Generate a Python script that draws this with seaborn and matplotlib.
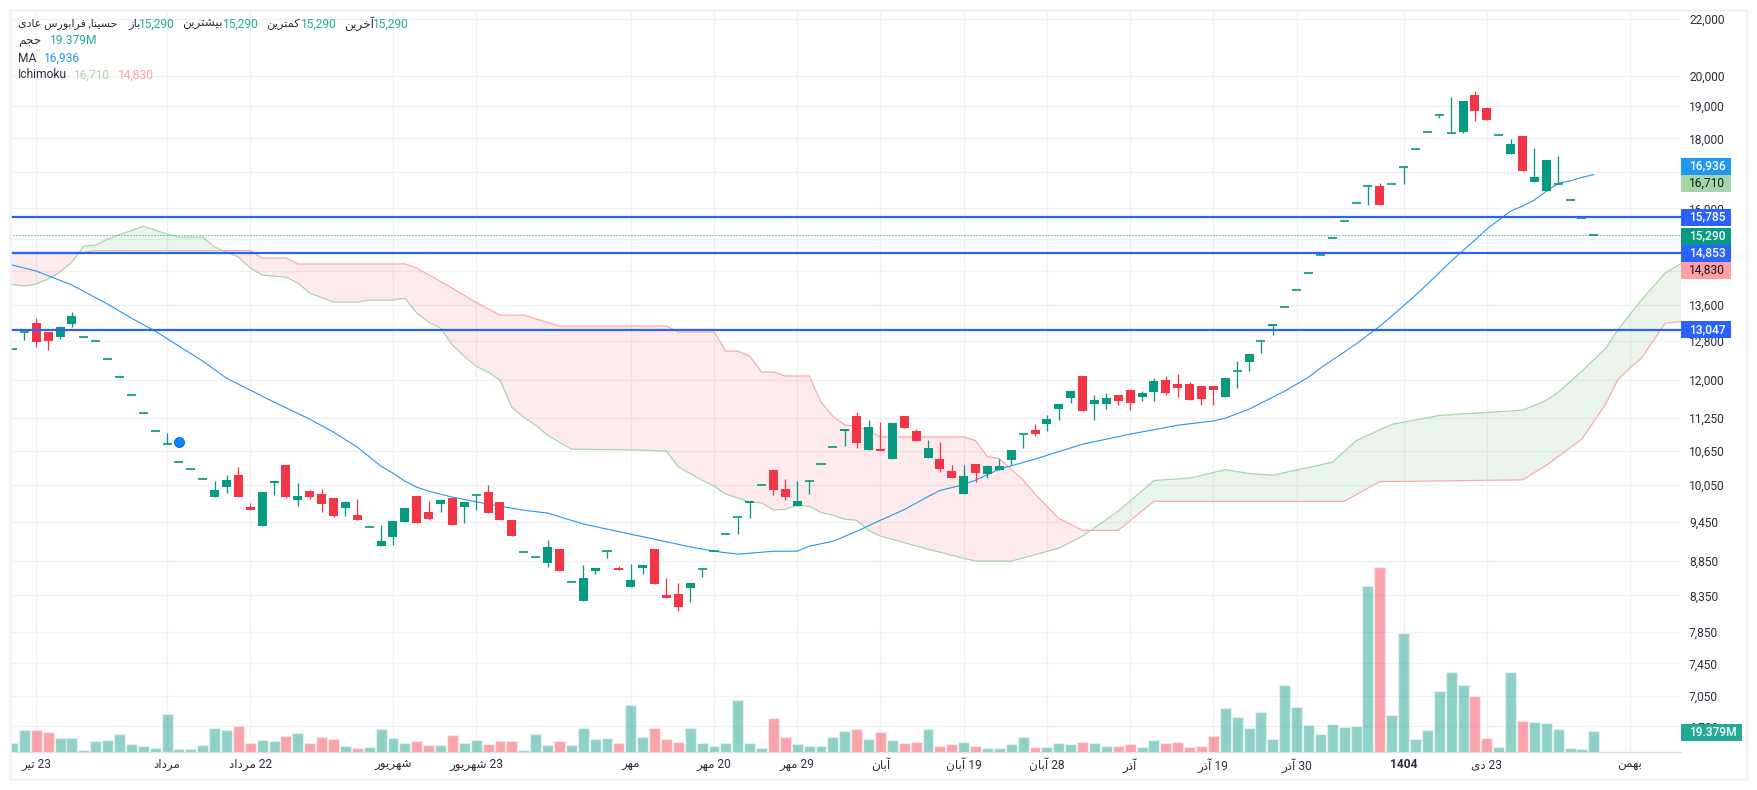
# Ichimoku / candlestick chart of a Tehran stock, with volume below
import numpy as np
import pandas as pd
import seaborn as sns
import matplotlib.pyplot as plt
from matplotlib.patches import Rectangle
from matplotlib.transforms import ScaledTranslation

# Candles, one value per trading day
open_price = [12632, 13000, 13196, 13000, 12890, 13174, 12890, 12803, 12421, 12050,
              11692, 11343, 11005, 10768, 10446, 10324, 10152, 9849, 10016, 10221,
              9685, 9380, 10084, 10394, 9799, 9949, 9899, 9832, 9668, 9555,
              9365, 9070, 9208, 9443, 9866, 9604, 9734, 9832, 9685, 9882,
              9932, 9767, 9475, 8979, 8904, 8815, 9024, 8537, 8269, 8697,
              8994, 8741, 8466, 8741, 9024, 8353, 8367, 8452, 8726, 8994,
              9255, 9523, 9750, 10050, 10307, 9982, 9701, 10118, 10411, 10713,
              11005, 11286, 10659, 10677, 10499, 11286, 11005, 10516, 10499, 10290,
              9899, 10411, 10238, 10307, 10481, 10950, 11023, 11135, 11419, 11633,
              12071, 11517, 11517, 11692, 11790, 11653, 11751, 11990, 11910, 11910,
              11870, 11870, 11653, 12173, 12358, 12803, 13130, 13557, 13950, 14355,
              14795, 15224, 15666, 16146, 16617, 16617, 16673, 17153, 17681, 18193,
              18721, 18163, 18193, 19361, 18944, 18102, 17533, 18072, 16729, 16476,
              16673, 16228, 15744, 15290]
high_price = [12632, 13000, 13307, 13000, 13130, 13443, 12890, 12803, 12421, 12050,
              11692, 11343, 11005, 10968, 10446, 10324, 10152, 10118, 10221, 10359,
              9750, 9932, 10118, 10394, 10084, 9966, 9982, 9832, 9783, 9816,
              9365, 9396, 9459, 9668, 9866, 9783, 9816, 9832, 9767, 9882,
              10050, 9767, 9475, 8979, 8904, 9162, 9024, 8537, 8785, 8741,
              8994, 8771, 8800, 8785, 9024, 8595, 8523, 8523, 8726, 8994,
              9255, 9523, 9783, 10050, 10307, 10152, 10118, 10118, 10411, 10713,
              11042, 11362, 11210, 11173, 11154, 11286, 11042, 10840, 10804, 10394,
              10394, 10411, 10394, 10499, 10659, 10950, 11135, 11305, 11517, 11770,
              12071, 11692, 11731, 11692, 11790, 11770, 12030, 12071, 12112, 11950,
              11870, 11870, 12030, 12379, 12526, 12803, 13174, 13557, 13950, 14355,
              14795, 15224, 15666, 16146, 16617, 16701, 16673, 17153, 17681, 18193,
              18721, 19296, 19168, 19492, 18975, 18102, 17981, 18072, 17712, 17358,
              17474, 16228, 15744, 15290]
low_price = [12632, 12825, 12675, 12611, 12846, 13108, 12890, 12803, 12421, 12050,
             11692, 11343, 11005, 10768, 10446, 10324, 10152, 9849, 9916, 9849,
             9636, 9380, 9882, 9832, 9701, 9816, 9604, 9523, 9539, 9475,
             9365, 9070, 9085, 9443, 9427, 9475, 9604, 9396, 9427, 9636,
             9588, 9475, 9224, 8979, 8904, 8756, 8697, 8537, 8269, 8653,
             8889, 8712, 8466, 8653, 8508, 8311, 8131, 8255, 8609, 8994,
             9255, 9255, 9507, 10050, 9882, 9799, 9701, 9899, 10411, 10713,
             10731, 10695, 10659, 10641, 10499, 11060, 10822, 10516, 10273, 10169,
             9899, 10101, 10169, 10307, 10394, 10695, 10913, 11005, 11210, 11536,
             11381, 11210, 11419, 11498, 11400, 11574, 11574, 11692, 11653, 11594,
             11498, 11498, 11653, 11830, 12173, 12548, 12933, 13557, 13950, 14355,
             14795, 15224, 15666, 16146, 16092, 16092, 16673, 16673, 17681, 18193,
             18627, 18163, 18163, 18534, 18565, 18102, 17533, 17039, 16729, 16476,
             16673, 16228, 15744, 15290]
close_price = [12632, 13000, 12782, 12803, 13108, 13352, 12890, 12803, 12421, 12050,
               11692, 11343, 11005, 10768, 10446, 10324, 10152, 9966, 10135, 9849,
               9636, 9932, 10118, 9849, 9866, 9849, 9734, 9539, 9767, 9475,
               9365, 9147, 9459, 9668, 9427, 9491, 9799, 9396, 9767, 9882,
               9588, 9475, 9224, 8979, 8904, 9055, 8697, 8537, 8595, 8741,
               8994, 8712, 8566, 8785, 8508, 8311, 8186, 8523, 8726, 8994,
               9255, 9523, 9783, 10050, 9966, 9849, 9783, 10118, 10411, 10713,
               11042, 10786, 11079, 10641, 11154, 11060, 10822, 10695, 10324, 10169,
               10204, 10255, 10376, 10376, 10659, 10950, 10950, 11229, 11517, 11770,
               11381, 11594, 11633, 11574, 11536, 11731, 11970, 11731, 11830, 11594,
               11613, 11790, 12030, 12173, 12526, 12803, 13174, 13557, 13950, 14355,
               14795, 15224, 15666, 16146, 16617, 16092, 16673, 17153, 17681, 18193,
               18721, 18163, 19168, 18849, 18565, 18102, 17831, 17039, 16870, 17358,
               16673, 16228, 15744, 15290]

# Volume in millions of shares
volume = [8.3, 20.3, 20.3, 18.5, 12.9, 12.9, 1.8, 10.2, 11.1, 16.6,
          7.4, 5.5, 3.7, 35.1, 2.8, 2.8, 6.5, 22.2, 20.3, 24.0,
          8.3, 11.1, 10.2, 14.8, 17.5, 8.3, 13.8, 12.0, 5.5, 3.7,
          4.6, 21.2, 12.9, 8.3, 10.2, 6.5, 6.5, 15.7, 8.3, 11.1,
          7.4, 10.2, 10.2, 1.8, 16.6, 6.5, 10.2, 6.5, 22.2, 12.0,
          12.9, 8.3, 43.4, 13.8, 22.2, 12.0, 9.2, 22.2, 8.3, 5.5,
          8.3, 48.0, 8.3, 3.7, 31.4, 13.8, 7.4, 5.5, 5.5, 13.8,
          19.4, 21.2, 12.0, 18.5, 11.1, 8.3, 9.2, 21.2, 5.5, 7.4,
          9.2, 5.5, 3.7, 3.7, 7.4, 13.8, 4.6, 4.6, 8.3, 7.4,
          9.2, 8.3, 5.5, 5.5, 7.4, 4.6, 11.1, 8.3, 9.2, 4.6,
          5.5, 14.8, 40.6, 32.3, 22.2, 36.9, 12.0, 61.8, 41.5, 24.9,
          16.6, 25.8, 23.1, 24.0, 153.2, 170.8, 34.2, 109.8, 12.0, 20.3,
          56.3, 73.8, 61.8, 51.7, 12.9, 4.6, 73.8, 28.6, 27.7, 26.8,
          21.2, 3.7, 2.8, 19.379]

# Moving average
ma_bar = [-1, 0, 2, 5, 8, 10, 12, 14, 16, 18, 20, 22, 25, 27, 29, 31, 32, 33, 34, 35, 37, 40,
          43, 45, 48, 52, 54, 57, 59, 61, 63, 64, 66, 67, 69, 71, 73, 75, 77, 78, 80, 81,
          83, 86, 90, 94, 98, 101, 102, 104, 106, 107, 109, 110, 112, 113, 115, 116, 118,
          119, 121, 122, 123, 124, 126, 127, 128, 129, 130, 131, 132, 133]
ma_value = [14620, 14548, 14403, 14068, 13625, 13307, 13020, 12695, 12380, 12030, 11790,
            11555, 11229, 10987, 10712, 10376, 10255, 10118, 10016, 9950, 9849, 9735,
            9636, 9590, 9415, 9255, 9177, 9060, 8994, 8950, 8979, 8994, 8995, 9070, 9145,
            9300, 9475, 9645, 9860, 9960, 10060, 10135, 10324, 10500, 10767, 10950, 11115,
            11195, 11248, 11419, 11653, 11770, 12050, 12235, 12569, 12740, 13130, 13352,
            13830, 14090, 14645, 14908, 15172, 15456, 15930, 16065, 16228, 16470, 16690,
            16760, 16860, 16936]

# Ichimoku cloud edges, read at their bends
span_a_bar = [-1, 1, 2, 3, 4, 5, 6, 7, 8, 11, 13, 14, 16, 17, 19, 20, 21, 23, 24, 25, 27,
              29, 30, 32, 33, 34, 35, 36, 37, 38, 39, 40, 41, 42, 43, 44, 45, 47, 53, 55, 56, 58,
              59, 60, 62, 63, 64, 65, 66, 67, 68, 69, 70, 71, 72, 73, 77, 81, 84, 88, 90,
              93, 96, 99, 102, 104, 106, 111, 113, 116, 120, 127, 129, 130, 132, 134, 135,
              137, 139, 141]
span_a_value = [14115, 14045, 14090, 14210, 14380, 14625, 15020, 15045, 15198, 15530, 15325,
                15250, 15250, 14995, 14745, 14475, 14305, 14255, 14115, 13880, 13670, 13670,
                13715, 13715, 13760, 13420, 13220, 13085, 12717, 12480, 12275, 12152, 11990,
                11455, 11265, 11115, 10930, 10677, 10660, 10640, 10360, 10135, 10035, 9900,
                9770, 9755, 9640, 9650, 9715, 9700, 9600, 9555, 9490, 9475, 9315, 9225, 9024,
                8845, 8845, 9040, 9225, 9620, 10130, 10170, 10315, 10250, 10220, 10445, 10830,
                11130, 11300, 11400, 11590, 11750, 12175, 12650, 13040, 13720, 14355, 14700]
span_b_bar = [-1, 6, 7, 20, 21, 23, 24, 33, 34, 37, 39, 41, 43, 46, 55, 56, 59, 60, 61, 62,
              63, 64, 65, 67, 68, 69, 70, 71, 72, 73, 80, 81, 82, 83, 85, 86, 88, 90, 93,
              96, 112, 115, 127, 129, 132, 134, 135, 136, 137, 139, 140, 141]
span_b_value = [14860, 14860, 14905, 14905, 14720, 14720, 14575, 14575, 14475, 13995, 13660,
                13375, 13375, 13130, 13130, 13000, 13000, 12590, 12590, 12485, 12155, 12155,
                12075, 12075, 11555, 11285, 11120, 11100, 11010, 10900, 10900, 10830, 10545,
                10510, 10140, 9900, 9505, 9315, 9315, 9780, 9780, 10110, 10140, 10390, 10858,
                11520, 11990, 12235, 12440, 13195, 13220, 13230]

# Axis ticks and drawn levels (labels behind the price tags are left blank)
price_ticks = [22000, 20000, 19000, 18000, 17000, 16000, 15200, 14400, 13600, 12800, 12000,
               11250, 10650, 10050, 9450, 8850, 8350, 7850, 7450, 7050, 6700]
price_hidden = [17000, 15200, 14400]
date_bars = [2, 13, 20, 32, 39, 52, 59, 66, 73, 80, 87, 94, 101, 108, 117, 124, 136]
date_labels = ['23 تیر', 'مرداد', '22 مرداد', 'شهریور', '23 شهریور', 'مهر', '20 مهر', '29 مهر',
               'آبان', '19 آبان', '28 آبان', 'آذر', '19 آذر', '30 آذر', '1404', '23 دی', 'بهمن']
level_lines = [15785, 14853, 13047]
last_price = 15290
marker_bar = 14
marker_price = 10803

GREEN = '#089981'
RED = '#F23645'
LEVEL_BLUE = '#2962FF'
MA_BLUE = '#2196F3'
SPAN_A = '#A5D6A7'
SPAN_B = '#F9A9A9'
TEXT = '#2A2E39'
GRID = '#F0F1F4'
px = 0.72  # one pixel in points at dpi 100

# matplotlib does no Arabic shaping, so pick the joined glyphs by hand
FORMS = {
    'ا': (0xFE8D, 0xFE8E), 'آ': (0xFE81, 0xFE82), 'د': (0xFEA9, 0xFEAA), 'ذ': (0xFEAB, 0xFEAC),
    'ر': (0xFEAD, 0xFEAE), 'ز': (0xFEAF, 0xFEB0), 'و': (0xFEED, 0xFEEE),
    'ب': (0xFE8F, 0xFE90, 0xFE91, 0xFE92), 'ت': (0xFE95, 0xFE96, 0xFE97, 0xFE98),
    'ج': (0xFE9D, 0xFE9E, 0xFE9F, 0xFEA0), 'ح': (0xFEA1, 0xFEA2, 0xFEA3, 0xFEA4),
    'خ': (0xFEA5, 0xFEA6, 0xFEA7, 0xFEA8), 'س': (0xFEB1, 0xFEB2, 0xFEB3, 0xFEB4),
    'ش': (0xFEB5, 0xFEB6, 0xFEB7, 0xFEB8), 'ع': (0xFEC9, 0xFECA, 0xFECB, 0xFECC),
    'ف': (0xFED1, 0xFED2, 0xFED3, 0xFED4), 'ک': (0xFB8E, 0xFB8F, 0xFB90, 0xFB91),
    'م': (0xFEE1, 0xFEE2, 0xFEE3, 0xFEE4), 'ن': (0xFEE5, 0xFEE6, 0xFEE7, 0xFEE8),
    'ه': (0xFEE9, 0xFEEA, 0xFEEB, 0xFEEC), 'ی': (0xFBFC, 0xFBFD, 0xFBFE, 0xFBFF),
}


def shape_word(word):
    out = []
    for n, ch in enumerate(word):
        if ch not in FORMS:
            out.append(ch)
            continue
        prev = word[n - 1] if n > 0 else ''
        nxt = word[n + 1] if n + 1 < len(word) else ''
        joins_prev = prev in FORMS and len(FORMS[prev]) == 4
        joins_next = nxt in FORMS and len(FORMS[ch]) == 4
        if joins_prev and joins_next:
            code = FORMS[ch][3]
        elif joins_next:
            code = FORMS[ch][2]
        elif joins_prev:
            code = FORMS[ch][1]
        else:
            code = FORMS[ch][0]
        out.append(chr(code))
    return ''.join(reversed(out))


def rtl(text):
    words = []
    for word in text.split(' '):
        words.append(shape_word(word) if any(c in FORMS for c in word) else word)
    return ' '.join(reversed(words))


sns.set_theme(style='white')
plt.rcParams['font.family'] = ['Roboto', 'DejaVu Sans']
plt.rcParams['font.size'] = 12 * px

fig = plt.figure(figsize=(17.57, 7.9), dpi=100)
fig.patch.set_facecolor('white')
ax = fig.add_axes([10 / 1757, (790 - 752.3) / 790, 1671 / 1757, 742.3 / 790])
vol_ax = ax.twinx()

# Volume bars, coloured by candle direction
bars = np.arange(len(close_price))
side = ['down' if c < o else 'up' for o, c in zip(open_price, close_price)]
vol_df = pd.DataFrame({'bar': bars, 'volume': volume, 'side': side})
sns.barplot(data=vol_df, x='bar', y='volume', hue='side', palette={'up': GREEN, 'down': RED},
            dodge=False, native_scale=True, width=0.92, saturation=1, alpha=0.45,
            legend=False, ax=vol_ax)
vol_ax.set_ylim(0, 685)
vol_ax.set_ylabel('')
vol_ax.set_xlabel('')
vol_ax.set_yticks([])
vol_ax.patch.set_visible(False)
for spine in vol_ax.spines.values():
    spine.set_visible(False)

# Ichimoku cloud, shaded on a fine grid only so the two edges can be compared
fine_x = np.linspace(-1, 141, 2841)
fine_a = np.interp(fine_x, span_a_bar, span_a_value)
fine_b = np.interp(fine_x, span_b_bar, span_b_value)
ax.fill_between(fine_x, fine_a, fine_b, where=fine_b >= fine_a, color=RED, alpha=0.1, lw=0)
ax.fill_between(fine_x, fine_a, fine_b, where=fine_a >= fine_b, color='#4CAF50', alpha=0.12, lw=0)
sns.lineplot(x=span_a_bar, y=span_a_value, color=SPAN_A, lw=1.2 * px, estimator=None, ax=ax)
sns.lineplot(x=span_b_bar, y=span_b_value, color=SPAN_B, lw=1.2 * px, estimator=None, ax=ax)
sns.lineplot(x=ma_bar, y=ma_value, color=MA_BLUE, lw=1.1 * px, estimator=None, ax=ax)

# Candles
for i, (o, h, l, c) in enumerate(zip(open_price, high_price, low_price, close_price)):
    col = RED if c < o else GREEN
    if h > l:
        ax.vlines(i, l, h, color=col, lw=1.3 * px, zorder=4)
    if o == c:
        ax.hlines(o, i - 0.38, i + 0.38, color=col, lw=1.7 * px, zorder=4)
    else:
        ax.bar(i, abs(c - o), bottom=min(o, c), width=0.757, color=col, lw=0, zorder=4)

# Drawn levels and last price
for level in level_lines:
    ax.axhline(level, color=LEVEL_BLUE, lw=2.2 * px, zorder=5)
ax.axhline(last_price, color=GREEN, lw=1 * px, ls=(0, (1, 2)), zorder=3)
ax.plot(marker_bar, marker_price, 'o', ms=10 * px, mfc='#0A84FF', mec='#0063CC', mew=0.6, zorder=6)

ax.set_yscale('log')
ax.set_ylim(6415, 22335)
ax.set_xlim(-0.21, 140.33)
ax.set_yticks(price_ticks)
ax.set_yticklabels(['' if p in price_hidden else f'{p:,}' for p in price_ticks])
ax.minorticks_off()
ax.yaxis.tick_right()
ax.set_xticks(date_bars)
ax.set_xticklabels([rtl(d) for d in date_labels])
for lab, name in zip(ax.get_xticklabels(), date_labels):
    if name == '1404':
        lab.set_fontweight('bold')
# price labels sit one pixel above their grid line
nudge = ScaledTranslation(0, 1 / 100, fig.dpi_scale_trans)
for lab in ax.get_yticklabels():
    lab.set_verticalalignment('center_baseline')
    lab.set_transform(lab.get_transform() + nudge)
ax.tick_params(axis='both', length=0, labelsize=12 * px, colors=TEXT)
ax.tick_params(axis='x', pad=6 * px)
ax.tick_params(axis='y', pad=8 * px)
ax.grid(True, color=GRID, lw=1.4 * px)
ax.set_axisbelow(True)
for name, spine in ax.spines.items():
    spine.set_visible(name == 'bottom')
    spine.set_color('#E0E3EB')
    spine.set_linewidth(1.4 * px)

# Overlay in pixel space for the panel frame, price tags and header
over = fig.add_axes([0, 0, 1, 1], zorder=10)
over.set_xlim(0, 1757)
over.set_ylim(790, 0)
over.axis('off')
over.add_patch(Rectangle((10, 10), 1737, 769, fill=False, ec='#F0F3FA', lw=2.6 * px))


def price_tag(text, y, fill, fg='white', weight='medium', right=1731):
    over.add_patch(Rectangle((1681, y - 8.5), right - 1681, 17, fc=fill, ec='none'))
    over.text(1689, y, text, color=fg, va='center', ha='left', fontsize=12 * px, fontweight=weight)


price_tag('16,936', 166, MA_BLUE)
price_tag('16,710', 183, SPAN_A, fg='#131722', weight='normal')
price_tag('15,785', 217, LEVEL_BLUE)
price_tag('15,290', 236, GREEN)
price_tag('14,853', 253, LEVEL_BLUE)
price_tag('14,830', 270, '#FF9FA2', fg='#131722', weight='normal')
price_tag('13,047', 329.5, LEVEL_BLUE)
price_tag('19.379M', 732, '#22AB94', right=1742)

head_green = '#22AB94'
head_pieces = [
    (18, 24, rtl('حسینا, فرابورس عادی'), TEXT, 11), (128, 24, rtl('باز'), TEXT, 11.5), (139, 24, '15,290', head_green, 12),
    (182, 24, rtl('بیشترین'), TEXT, 12), (223, 24, '15,290', head_green, 12),
    (266, 24, rtl('کمترین'), TEXT, 11.5), (301, 24, '15,290', head_green, 12),
    (344, 24, rtl('آخرین'), TEXT, 12), (373, 24, '15,290', head_green, 12),
    (18, 41, rtl('حجم'), TEXT, 12), (50, 41, '19.379M', head_green, 12),
    (18, 58, 'MA', TEXT, 12), (44, 58, '16,936', MA_BLUE, 12),
    (18, 75, 'Ichimoku', TEXT, 12), (74, 75, '16,710', SPAN_A, 12), (118, 75, '14,830', '#FF9FA2', 12),
]
for x, y, text, col, size in head_pieces:
    over.text(x, y, text, color=col, va='center', ha='left', fontsize=size * px)

plt.savefig('out.png', dpi=100)
